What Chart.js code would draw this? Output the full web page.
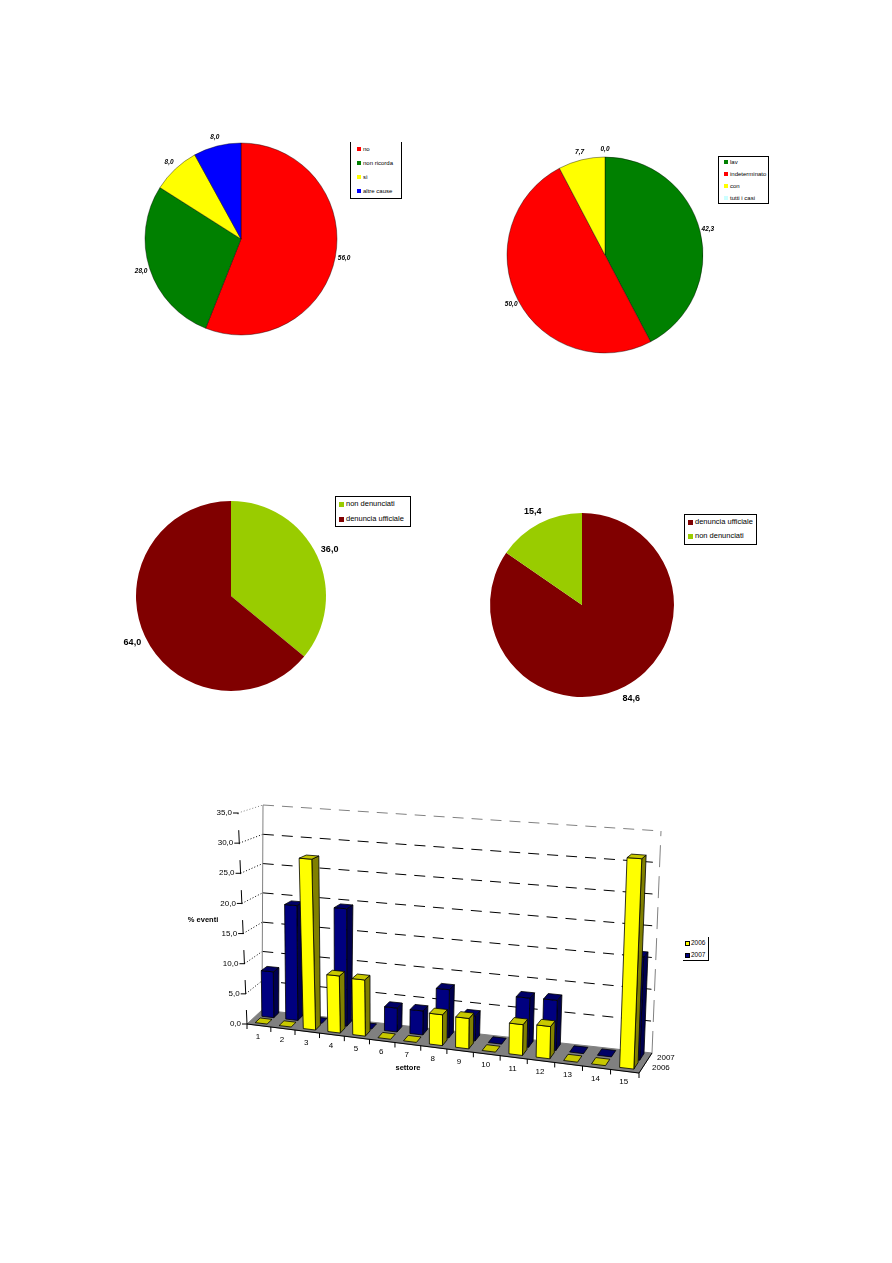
<!DOCTYPE html>
<html>
<head>
<meta charset="utf-8">
<title>Grafici</title>
<script src="https://cdn.jsdelivr.net/npm/chart.js@4/dist/chart.umd.min.js"></script>
<style>
  html, body { margin: 0; padding: 0; background: #fff; }
  body { position: relative; width: 892px; height: 1263px; overflow: hidden; }
  canvas { position: absolute; }
  .legend { position: absolute; box-sizing: border-box; border: 1px solid #000; font-family: "Liberation Sans", Arial, sans-serif; color: #000; background: #fff; }
  .legend div { position: absolute; white-space: nowrap; line-height: 1; }
  .legend i { position: absolute; display: block; }
</style>
</head>
<body>
<script>
// pie 1
var pie1Labels = ['no', 'non ricorda', 'sì', 'altre cause'];
var pie1Values = [56.0, 28.0, 8.0, 8.0];
var pie1Colors = ['#ff0000', '#008000', '#ffff00', '#0000ff'];
// pie 2
var pie2Labels = ['lav', 'indeterminato', 'con', 'tutti i casi'];
var pie2Values = [42.3, 50.0, 7.7, 0.0];
var pie2Colors = ['#008000', '#ff0000', '#ffff00', '#ccffff'];
// pie 3
var pie3Labels = ['non denunciati', 'denuncia ufficiale'];
var pie3Values = [36.0, 64.0];
var pie3Colors = ['#99cc00', '#800000'];
// pie 4
var pie4Labels = ['denuncia ufficiale', 'non denunciati'];
var pie4Values = [84.6, 15.4];
var pie4Colors = ['#800000', '#99cc00'];
// bars
var sectors = ['1','2','3','4','5','6','7','8','9','10','11','12','13','14','15'];
var years = ['2006', '2007'];
var values2006 = [0, 0, 28, 9.3, 9.1, 0, 0, 4.9, 4.8, 0, 4.8, 5, 0, 0, 32];
var values2007 = [7.7, 19.2, 0, 19.4, 0, 3.9, 3.9, 7.8, 4, 0, 7.8, 7.9, 0, 0, 16];

function comma(v) { return v.toFixed(1).replace('.', ','); }

// labels round the pie, from the arc elements
var pieLabels = {
  id: 'pieLabels',
  afterDatasetsDraw: function(chart, args, opts) {
    var ctx = chart.ctx;
    var values = chart.data.datasets[0].data;
    ctx.save();
    ctx.font = opts.font;
    ctx.fillStyle = '#000';
    ctx.textAlign = 'center';
    ctx.textBaseline = 'middle';
    chart.getDatasetMeta(0).data.forEach(function(arc, i) {
      var mid = (arc.startAngle + arc.endAngle) / 2;
      var r = arc.outerRadius + opts.offset;
      ctx.fillText(comma(values[i]), arc.x + Math.cos(mid) * r, arc.y + Math.sin(mid) * r);
    });
    ctx.restore();
  }
};

function makePie(cx, cy, radius, labels, values, colors, font, offset, edge) {
  var half = radius + 34;
  var c = document.createElement('canvas');
  c.width = half * 2;
  c.height = half * 2;
  c.style.left = (cx - half) + 'px';
  c.style.top = (cy - half) + 'px';
  document.body.appendChild(c);
  new Chart(c, {
    type: 'pie',
    plugins: [pieLabels],
    data: {
      labels: labels,
      datasets: [{ data: values, backgroundColor: colors, borderWidth: edge, borderColor: '#000' }]
    },
    options: {
      responsive: false,
      animation: false,
      radius: radius,
      plugins: {
        legend: { display: false },
        tooltip: { enabled: false },
        pieLabels: { font: font, offset: offset }
      }
    }
  });
}

function makeLegend(box, labels, colors) {
  var d = document.createElement('div');
  d.className = 'legend';
  d.style.left = box.x + 'px';
  d.style.top = box.y + 'px';
  d.style.width = box.w + 'px';
  d.style.height = box.h + 'px';
  d.style.fontSize = box.font + 'px';
  if (box.noTop) d.style.borderTop = 'none';
  if (box.noLeft) { d.style.borderLeft = 'none'; d.style.borderTop = 'none'; }
  labels.forEach(function(t, i) {
    var y = box.first + i * box.step;
    var s = document.createElement('i');
    s.style.cssText = 'left:' + box.swatchX + 'px;top:' + (y - box.swatch / 2) + 'px;width:' + box.swatch + 'px;height:' + box.swatch + 'px;background:' + colors[i] + ';';
    if (box.swatchEdge) { s.style.boxSizing = 'border-box'; s.style.border = '1px solid #000'; }
    d.appendChild(s);
    var e = document.createElement('div');
    e.textContent = t;
    e.style.left = box.textX + 'px';
    e.style.top = (y - box.font / 2) + 'px';
    d.appendChild(e);
  });
  document.body.appendChild(d);
}

makePie(241, 239, 96, pie1Labels, pie1Values, pie1Colors, 'italic bold 6.5px "Liberation Sans"', 9, 0.4);
makePie(605, 255, 98, pie2Labels, pie2Values, pie2Colors, 'italic bold 6.5px "Liberation Sans"', 8, 0.4);
makePie(231, 596, 95, pie3Labels, pie3Values, pie3Colors, 'bold 9px "Liberation Sans"', 14, 0);
makePie(582, 605, 92, pie4Labels, pie4Values, pie4Colors, 'bold 9px "Liberation Sans"', 14, 0);

makeLegend({ x: 350, y: 142, w: 52, h: 57, font: 6, first: 7, step: 14, swatch: 4, swatchX: 6, textX: 12, noTop: true }, pie1Labels, pie1Colors);
makeLegend({ x: 718, y: 156, w: 51, h: 48, font: 6, first: 5, step: 12, swatch: 4, swatchX: 5, textX: 11 }, pie2Labels, pie2Colors);
makeLegend({ x: 335, y: 496, w: 76, h: 31, font: 7.5, first: 7, step: 15, swatch: 5, swatchX: 3, textX: 10 }, pie3Labels, pie3Colors);
makeLegend({ x: 684, y: 514, w: 73, h: 31, font: 7.5, first: 7, step: 14, swatch: 5, swatchX: 3, textX: 10 }, pie4Labels, pie4Colors);
makeLegend({ x: 683, y: 937, w: 26, h: 24, font: 6.5, first: 6, step: 12, swatch: 5, swatchX: 2, textX: 8, noLeft: true, swatchEdge: true }, years, ['#ffff00', '#000080']);

// perspective box of the 3D bars, page coordinates
var corners = {
  fl: [247, 1024], fr: [639, 1073], bl: [262, 1010], br: [652, 1053],
  flt: [238, 813], frt: [648, 841], blt: [263, 805], brt: [661, 831]
};
var yellowFaces = { front: '#ffff00', side: '#808000', top: '#c8c800' };
var blueFaces = { front: '#000080', side: '#00004d', top: '#000066' };

function mix(a, b, t) { return [a[0] + (b[0] - a[0]) * t, a[1] + (b[1] - a[1]) * t]; }

// u along the sectors, d into the depth, h up the value axis: all 0..1
function project(u, d, h) {
  var w = 0.906 * u + 0.094 * u * u;
  var low = mix(mix(corners.fl, corners.fr, w), mix(corners.bl, corners.br, w), d);
  var high = mix(mix(corners.flt, corners.frt, w), mix(corners.blt, corners.brt, w), d);
  return mix(low, high, h);
}

function poly(ctx, pts, fill) {
  ctx.beginPath();
  pts.forEach(function(p, i) { if (i) ctx.lineTo(p[0], p[1]); else ctx.moveTo(p[0], p[1]); });
  ctx.closePath();
  if (fill) { ctx.fillStyle = fill; ctx.fill(); }
  ctx.stroke();
}

function line(ctx, a, b) {
  ctx.beginPath();
  ctx.moveTo(a[0], a[1]);
  ctx.lineTo(b[0], b[1]);
  ctx.stroke();
}

var bars3d = {
  id: 'bars3d',
  beforeDatasetsDraw: function(chart) {
    var ctx = chart.ctx, area = chart.chartArea, yScale = chart.scales.y;
    var box = chart.canvas.getBoundingClientRect();
    var toU = function(px) { return (px - area.left) / area.width; };
    var toH = function(py) { return (area.bottom - py) / area.height; };

    ctx.save();
    ctx.translate(-box.left, -box.top);

    // floor
    ctx.strokeStyle = '#808080';
    ctx.lineWidth = 1;
    poly(ctx, [project(0,0,0), project(1,0,0), project(1,1,0), project(0,1,0)], '#808080');

    // walls
    yScale.ticks.forEach(function(t) {
      var h = toH(yScale.getPixelForValue(t.value));
      var top = t.value === yScale.max;
      ctx.strokeStyle = '#000';
      ctx.setLineDash([1, 2]);
      if (top) ctx.strokeStyle = '#808080';
      if (t.value > 0) line(ctx, project(0,0,h), project(0,1,h));
      ctx.setLineDash([11, 8]);
      ctx.strokeStyle = top ? '#808080' : '#000';
      if (t.value > 0) line(ctx, project(0,1,h), project(1,1,h));
    });
    ctx.strokeStyle = '#808080';
    ctx.setLineDash([]);
    line(ctx, project(0,1,0), project(0,1,1));
    ctx.setLineDash([22, 9]);
    line(ctx, project(1,1,0), project(1,1,1));
    ctx.setLineDash([]);

    // bars: back row first, each bar left to right
    ctx.strokeStyle = '#000';
    ctx.lineWidth = 0.8;
    [[1, blueFaces, 0.6, 0.93], [0, yellowFaces, 0.15, 0.48]].forEach(function(row) {
      var faces = row[1], d0 = row[2], d1 = row[3];
      chart.getDatasetMeta(row[0]).data.forEach(function(el) {
        var u0 = toU(el.x - el.width / 2), u1 = toU(el.x + el.width / 2);
        var h = toH(el.y);
        if (h > 0) {
          poly(ctx, [project(u1,d0,0), project(u1,d1,0), project(u1,d1,h), project(u1,d0,h)], faces.side);
          poly(ctx, [project(u0,d0,0), project(u1,d0,0), project(u1,d0,h), project(u0,d0,h)], faces.front);
        }
        poly(ctx, [project(u0,d0,h), project(u1,d0,h), project(u1,d1,h), project(u0,d1,h)], faces.top);
      });
    });

    // value axis
    ctx.strokeStyle = '#000';
    ctx.lineWidth = 1;
    ctx.setLineDash([14, 16]);
    line(ctx, project(0,0,0), project(0,0,1));
    ctx.setLineDash([]);
    ctx.fillStyle = '#000';
    ctx.font = '8px "Liberation Sans"';
    ctx.textAlign = 'right';
    ctx.textBaseline = 'middle';
    yScale.ticks.forEach(function(t) {
      var p = project(0, 0, toH(yScale.getPixelForValue(t.value)));
      line(ctx, [p[0] - 5, p[1]], p);
      ctx.fillText(comma(t.value), p[0] - 6, p[1]);
    });

    // sector axis
    ctx.textAlign = 'center';
    var n = chart.data.labels.length;
    chart.data.labels.forEach(function(lab, i) {
      var a = project(i / n, 0, 0);
      line(ctx, a, [a[0], a[1] + 5]);
      var m = project((i + 0.5) / n, 0, 0);
      ctx.fillText(lab, m[0] - 1, m[1] + 11);
    });
    var end = project(1, 0, 0);
    line(ctx, project(0,0,0), end);
    line(ctx, end, [end[0], end[1] + 5]);

    // depth axis
    line(ctx, end, project(1,1,0));
    ctx.textAlign = 'left';
    ctx.fillText(years[0], 652, 1068);
    ctx.fillText(years[1], 657, 1058);

    // titles
    ctx.font = 'bold 7.5px "Liberation Sans"';
    ctx.textAlign = 'center';
    ctx.fillText('% eventi', 203, 920);
    ctx.fillText('settore', 408, 1068);

    ctx.restore();
    return false;
  }
};

var barCanvas = document.createElement('canvas');
barCanvas.width = 560;
barCanvas.height = 300;
barCanvas.style.left = '170px';
barCanvas.style.top = '790px';
document.body.appendChild(barCanvas);

new Chart(barCanvas, {
  type: 'bar',
  plugins: [bars3d],
  data: {
    labels: sectors,
    datasets: [
      { label: years[0], data: values2006, backgroundColor: '#ffff00', grouped: false, categoryPercentage: 1, barPercentage: 0.5 },
      { label: years[1], data: values2007, backgroundColor: '#000080', grouped: false, categoryPercentage: 1, barPercentage: 0.5 }
    ]
  },
  options: {
    responsive: false,
    animation: false,
    scales: {
      x: { display: false },
      y: { display: false, min: 0, max: 35, ticks: { stepSize: 5 } }
    },
    plugins: { legend: { display: false }, tooltip: { enabled: false } }
  }
});
</script>
</body>
</html>
